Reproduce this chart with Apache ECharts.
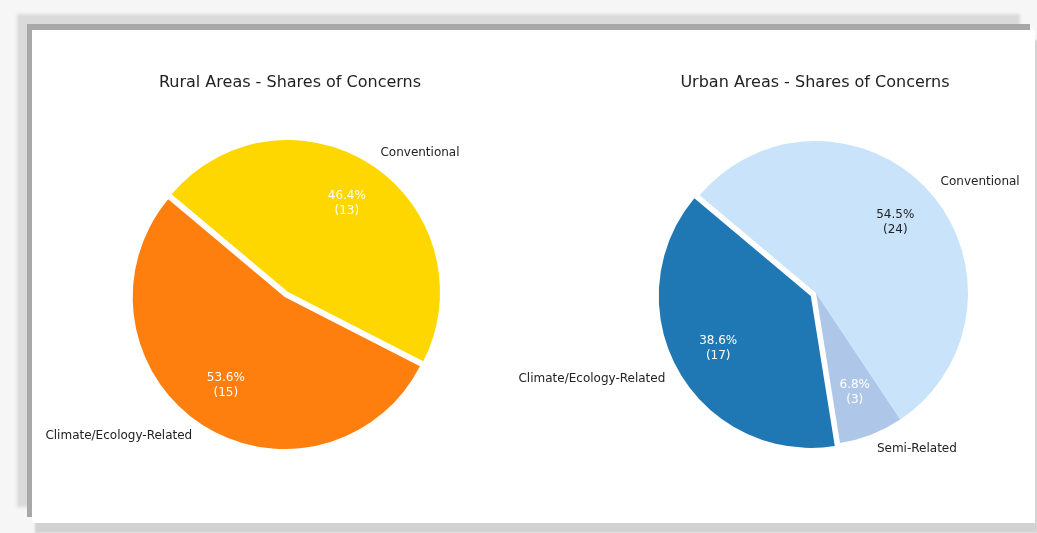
<!DOCTYPE html>
<html>
<head>
<meta charset="utf-8">
<script src="https://cdn.jsdelivr.net/npm/echarts@6/dist/echarts.min.js"></script>
<style>
  html, body { margin: 0; padding: 0; background: #f6f6f6; }
  #frame {
    position: absolute; left: 32px; top: 30px; width: 1003px; height: 493px;
    background: #ffffff;
    box-shadow: -5px -6px 0 0 #a8a8a8, -15px -16px 3px 0 #dadada, 3px 10px 2px 0 #d2d2d2;
  }
  #chart { position: absolute; left: 0; top: 0; width: 1037px; height: 533px; }
</style>
</head>
<body>
<div id="frame"></div>
<div id="chart"></div>
<script>
// Rural respondents
const ruralCategories = ['Conventional', 'Climate/Ecology-Related'];
const ruralCounts = [13, 15];
const ruralColors = ['#ffd700', '#ff7f0e'];
const ruralPctColors = ['#ffffff', '#ffffff'];
const ruralExploded = ['Climate/Ecology-Related'];

// Urban respondents
const urbanCategories = ['Conventional', 'Semi-Related', 'Climate/Ecology-Related'];
const urbanCounts = [24, 3, 17];
const urbanColors = ['#c9e4fa', '#aec7e8', '#1f77b4'];
const urbanPctColors = ['#222222', '#ffffff', '#ffffff'];
const urbanExploded = ['Climate/Ecology-Related'];

const titles = ['Rural Areas - Shares of Concerns', 'Urban Areas - Shares of Concerns'];

const FONT = 'DejaVu Sans';
const R = 152;          // pie radius
const EXPLODE = 6;      // offset of the pulled-out wedge
const PCT_DIST = 0.7;   // percent label distance (fraction of radius)
const NAME_DIST = 1.1;  // category label distance (fraction of radius)

function pieSeries(center, cats, counts, colors, pctColors, exploded) {
  const total = counts.reduce((a, b) => a + b, 0);
  const base = {
    type: 'pie',
    center: center,
    startAngle: 140,
    clockwise: true,
    selectedMode: 'single',
    selectedOffset: EXPLODE,
    avoidLabelOverlap: false,
    animation: false,
    emphasis: { disabled: true, scale: false },
    select: { itemStyle: { borderWidth: 0 } }
  };
  // visible wedges with category labels outside
  const wedges = Object.assign({}, base, {
    radius: [0, R],
    label: {
      show: true, position: 'outside', fontFamily: FONT, fontSize: 12, color: '#222',
      distanceToLabelLine: 0, formatter: '{b}'
    },
    labelLine: { show: false, length: (NAME_DIST - 1) * R, length2: 0 },
    data: cats.map((c, i) => ({
      name: c, value: counts[i], selected: exploded.includes(c),
      itemStyle: { color: colors[i], borderWidth: 0 }
    }))
  });
  // transparent twin, only carrying the percentage labels
  const pct = Object.assign({}, base, {
    silent: true,
    radius: [0, 2 * (PCT_DIST * R - 3)],
    label: {
      show: true, position: 'inside', fontFamily: FONT, fontSize: 12, lineHeight: 15,
      align: 'center',
      formatter: p => (p.value / total * 100).toFixed(1) + '%\n(' + p.value + ')'
    },
    labelLine: { show: false },
    data: cats.map((c, i) => ({
      name: c, value: counts[i], selected: exploded.includes(c),
      itemStyle: { color: 'rgba(0,0,0,0)', borderWidth: 0 },
      label: { color: pctColors[i] },
      select: { label: { color: pctColors[i] }, itemStyle: { color: 'rgba(0,0,0,0)' } }
    }))
  });
  return [wedges, pct];
}

const titleStyle = { fontFamily: FONT, fontSize: 16, fontWeight: 'normal', color: '#222' };

const chart = echarts.init(document.getElementById('chart'), null, { renderer: 'canvas' });
chart.setOption({
  backgroundColor: 'transparent',
  title: [
    { text: titles[0], left: 285, top: 70, textAlign: 'center', textStyle: titleStyle },
    { text: titles[1], left: 810, top: 70, textAlign: 'center', textStyle: titleStyle }
  ],
  series: [
    ...pieSeries([288, 292], ruralCategories, ruralCounts, ruralColors, ruralPctColors, ruralExploded),
    ...pieSeries([816, 293], urbanCategories, urbanCounts, urbanColors, urbanPctColors, urbanExploded)
  ]
});
</script>
</body>
</html>
